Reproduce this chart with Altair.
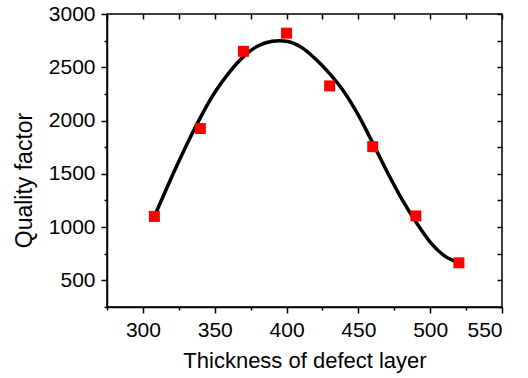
import altair as alt
import pandas as pd

# measured points
thickness = [308, 340, 370, 400, 430, 460, 490, 520]
quality = [1100, 1925, 2650, 2820, 2325, 1755, 1105, 665]

# fitted curve
fit_thickness = [308, 316, 324, 332, 340, 350, 360, 370, 380, 390, 395, 400,
                 410, 420, 430, 440, 450, 460, 470, 480, 490, 500, 510, 520]
fit_quality = [1100, 1348, 1588, 1816, 2028, 2263, 2450, 2600, 2700, 2745, 2750, 2745,
               2690, 2580, 2440, 2270, 2050, 1790, 1520, 1270, 1050, 860, 730, 665]

x_ticks = [275, 300, 325, 350, 375, 400, 425, 450, 475, 500, 525, 550]
y_ticks = [250, 500, 750, 1000, 1250, 1500, 1750, 2000, 2250, 2500, 2750, 3000]

pts = pd.DataFrame({"t": thickness, "q": quality})
fit = pd.DataFrame({"t": fit_thickness, "q": fit_quality})

FONT = "Liberation Sans"
xscale = alt.Scale(domain=[275, 550], nice=False, zero=False)
yscale = alt.Scale(domain=[250, 3000], nice=False, zero=False)

mx = "datum.value % 50 === 0"
my = "datum.value % 500 === 0"

x_bottom = alt.Axis(
    values=x_ticks, format="d",
    labelExpr=f"{mx} ? datum.label : ''",
    tickSize={"condition": {"test": mx, "value": 6}, "value": 3},
    labelPadding=6, labelFontSize=21, labelFont=FONT, labelColor="black",
    title="Thickness of defect layer", titleFontSize=22, titleFont=FONT,
    titleFontWeight="normal", titleColor="black",
    titleBaseline="alphabetic", titleY=60,
    domainColor="black", domainWidth=1.5, tickColor="black", tickWidth=1.5,
    grid=False,
)
y_left = alt.Axis(
    values=y_ticks, format="d",
    labelExpr=f"{my} ? datum.label : ''",
    tickSize={"condition": {"test": my, "value": 6}, "value": 3},
    labelPadding=6, labelFontSize=21, labelFont=FONT, labelColor="black",
    title="Quality factor", titleFontSize=23, titleFont=FONT,
    titleFontWeight="normal", titleColor="black",
    titleBaseline="alphabetic", titleAngle=270, titleX=-76, titleY=166,
    domainColor="black", domainWidth=1.5, tickColor="black", tickWidth=1.5,
    grid=False,
)
x_top = alt.Axis(orient="top", values=x_ticks, labels=False, title=None,
                 tickSize=5, offset=-5, domain=False, tickColor="black",
                 tickWidth=1.5, grid=False)
y_right = alt.Axis(orient="right", values=y_ticks, labels=False, title=None,
                   tickSize=5, offset=-5, domain=False, tickColor="black",
                   tickWidth=1.5, grid=False)

line = alt.Chart(fit).mark_line(color="black", strokeWidth=3.5, interpolate="monotone").encode(
    x=alt.X("t:Q", scale=xscale, axis=x_top),
    y=alt.Y("q:Q", scale=yscale, axis=y_right),
)
points = alt.Chart(pts).mark_point(shape="square", filled=True, color="#ff0000",
                                   size=121, opacity=1).encode(
    x=alt.X("t:Q", scale=xscale, axis=x_bottom),
    y=alt.Y("q:Q", scale=yscale, axis=y_left),
)

chart = alt.layer(line, points).resolve_axis(x="independent", y="independent").properties(
    width=395, height=293,
    autosize=alt.AutoSizeParams(type="none"),
    padding={"left": 107, "top": 14, "right": 26, "bottom": 71},
    background="white",
).configure_view(stroke="black", strokeWidth=1.5)

chart.save("out.html", embed_options={"renderer": "svg", "actions": False})
